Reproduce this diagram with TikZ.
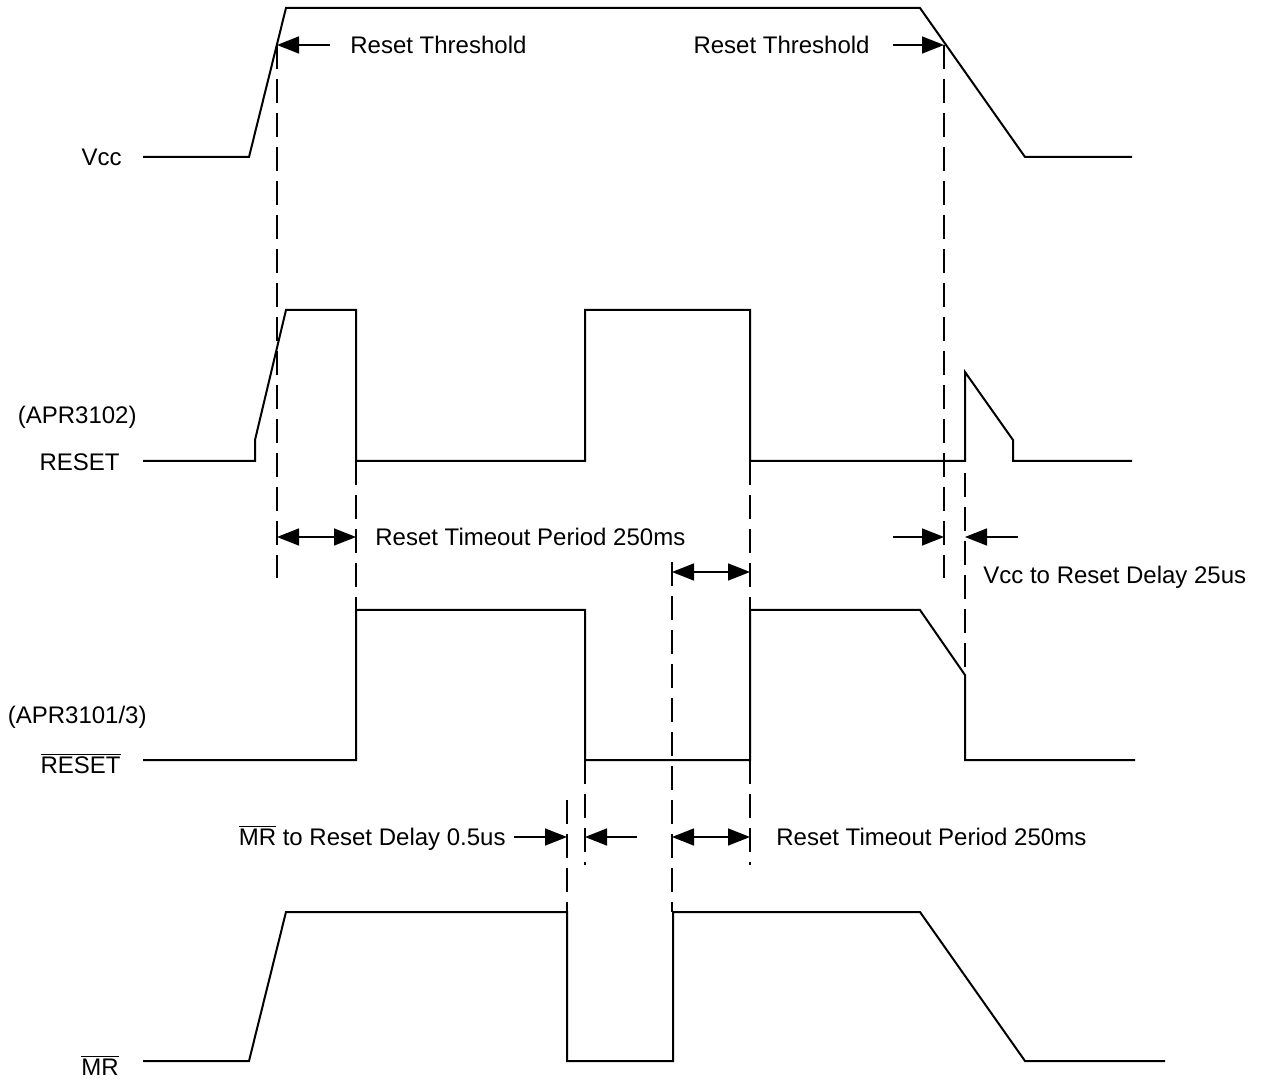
\documentclass[tikz,border=0pt]{standalone}
\usepackage{fontspec}
\setmainfont{Liberation Sans}
\usetikzlibrary{arrows.meta}

\tikzset{
  wave/.style={black, line width=1pt, line join=miter},
  guide/.style={black, line width=0.7pt, dash pattern=on 12pt off 5pt},
  tip/.style={black, line width=0.8pt, -{Triangle[length=11pt,width=8.5pt]}},
  twotip/.style={black, line width=0.8pt, {Triangle[length=11pt,width=8.5pt]}-{Triangle[length=11pt,width=8.5pt]}},
  lbl/.style={inner sep=0pt, text height=8.6pt, text depth=0pt, font=\fontsize{12}{14}\selectfont},
}

\begin{document}
\begin{tikzpicture}[x=0.5pt,y=-0.5pt]
\useasboundingbox (0,0) rectangle (1265,1080);
% signal names
\node [lbl, anchor=east] (vcc) at (122,157) {Vcc};
\node [lbl, anchor=east] (apr3102) at (137,415) {(APR3102)};
\node [lbl, anchor=east] (rst) at (120,462) {RESET};
\node [lbl, anchor=east] (apr3101) at (147,715) {(APR3101/3)};
\node [lbl, anchor=east] (rstb) at (121,765) {$\overline{\mbox{RESET}}$};
\node [lbl, anchor=east] (mrb) at (119,1067) {$\overline{\mbox{MR}}$};
% waveforms
\draw [wave] (143,157) -- (249,157) -- (286,8) -- (920,8) -- (1025,157) -- (1132,157);
\draw [wave] (143,461) -- (255,461) -- (255,440) -- (286,310) -- (356,310) -- (356,461)
  -- (585,461) -- (585,310) -- (750,310) -- (750,461) -- (965,461) -- (965,372)
  -- (1013,440) -- (1013,461) -- (1132,461);
\draw [wave] (143,760) -- (356,760) -- (356,610) -- (585,610) -- (585,760) -- (750,760)
  -- (750,610) -- (920,610) -- (965,675) -- (965,760) -- (1135,760);
\draw [wave] (143,1061) -- (249,1061) -- (286,912) -- (567,912) -- (567,1061) -- (673,1061)
  -- (673,912) -- (920,912) -- (1025,1061) -- (1165,1061);
% guide lines
\draw [guide] (277,45) -- (277,578);
\draw [guide] (944,45) -- (944,578);
\draw [guide] (356,461) -- (356,610);
\draw [guide] (750,461) -- (750,610);
\draw [guide] (750,760) -- (750,865);
\draw [guide] (672,562) -- (672,912);
\draw [guide] (965,473) -- (965,675);
\draw [guide] (567,800) -- (567,912);
\draw [guide] (585,760) -- (585,865);
% timing marks
\coordinate (thLa) at (330,45);  \coordinate (thLb) at (277,45);
\coordinate (thRa) at (893,45);  \coordinate (thRb) at (944,45);
\coordinate (toAa) at (277,537); \coordinate (toAb) at (356,537);
\coordinate (toBa) at (672,572); \coordinate (toBb) at (750,572);
\coordinate (dlAa) at (893,537); \coordinate (dlAb) at (944,537);
\coordinate (dlBa) at (1018,537); \coordinate (dlBb) at (965,537);
\coordinate (mrAa) at (514,837); \coordinate (mrAb) at (567,837);
\coordinate (mrBa) at (637,837); \coordinate (mrBb) at (585,837);
\coordinate (toCa) at (672,837); \coordinate (toCb) at (750,837);
\draw [tip] (thLa) -- (thLb);
\draw [tip] (thRa) -- (thRb);
\draw [twotip] (toAa) -- (toAb);
\draw [twotip] (toBa) -- (toBb);
\draw [tip] (dlAa) -- (dlAb);
\draw [tip] (dlBa) -- (dlBb);
\draw [tip] (mrAa) -- (mrAb);
\draw [tip] (mrBa) -- (mrBb);
\draw [twotip] (toCa) -- (toCb);
% notes
\node [lbl, anchor=west] (thL) at (350,45) {Reset Threshold};
\node [lbl, anchor=east] (thR) at (870,45) {Reset Threshold};
\node [lbl, anchor=west] (toA) at (375,537) {Reset Timeout Period 250ms};
\node [lbl, anchor=west] (vccdly) at (983,575) {Vcc to Reset Delay 25us};
\node [lbl, anchor=east] (mrdly) at (506,837) {$\overline{\mbox{MR}}$ to Reset Delay 0.5us};
\node [lbl, anchor=west] (toC) at (776,837) {Reset Timeout Period 250ms};
\end{tikzpicture}
\end{document}
